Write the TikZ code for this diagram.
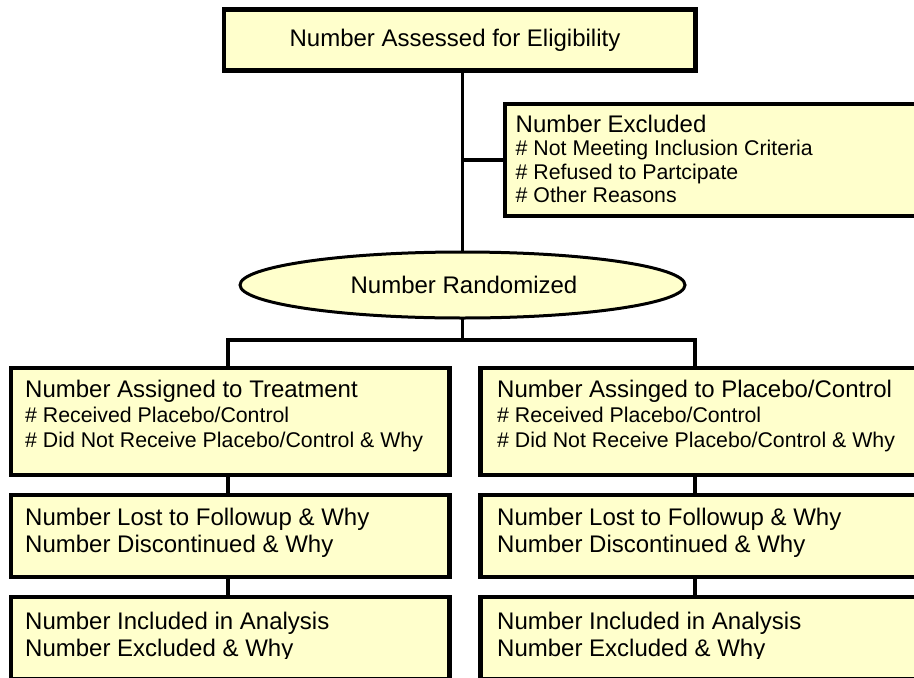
\documentclass[tikz,border=0pt]{standalone}
\usepackage{fontspec}
\setmainfont{Liberation Sans}
\usetikzlibrary{shapes.geometric,backgrounds}
\definecolor{boxfill}{HTML}{FFFFCC}
\tikzset{
  box/.style={draw=black, line width=4.5pt, fill=boxfill, rectangle, inner sep=0pt, outer sep=0pt},
  oval/.style={draw=black, line width=3pt, fill=boxfill, ellipse, inner sep=0pt, outer sep=0pt},
  link/.style={draw=black, line width=3.5pt},
  big/.style={inner sep=0pt, font=\fontsize{24}{27}\selectfont},
  small/.style={inner sep=0pt, font=\fontsize{21.3}{24}\selectfont},
}
\begin{document}
\begin{tikzpicture}[x=1pt,y=-1pt]
\useasboundingbox (0,0) rectangle (914,678);
\clip (0,0) rectangle (914,678);

% boxes
\node[box, minimum width=471.5pt, minimum height=61pt] (top) at (459.75,40) {};
\node[box, minimum width=445pt, minimum height=112pt] (excl) at (727.5,160) {};
\node[oval, minimum width=445pt, minimum height=66pt] (rand) at (462.5,285) {};
\node[box, minimum width=438.5pt, minimum height=107pt] (t1) at (230.25,421.5) {};
\node[box, minimum width=439.5pt, minimum height=107pt] (p1) at (700.25,421.5) {};
\node[box, minimum width=438.5pt, minimum height=82pt] (t2) at (230.25,536) {};
\node[box, minimum width=439.5pt, minimum height=82pt] (p2) at (700.25,536) {};
\node[box, minimum width=438.5pt, minimum height=82pt] (t3) at (230.25,638) {};
\node[box, minimum width=439.5pt, minimum height=82pt] (p3) at (700.25,638) {};

% connectors
\coordinate (split) at (462.5,340);
\coordinate (lc) at (228,340);
\coordinate (rc) at (695,340);
\begin{pgfonlayer}{background}
\draw[link] (rand.north |- top.south) -- (rand.north);
\draw[link] (rand.north |- excl.west) -- (excl.west);
\draw[link] (rand.south) -- (split);
\draw[link] (lc |- t1.north) -- (lc) -- (rc) -- (rc |- p1.north);
\draw[link] (lc |- t1.south) -- (lc |- t2.north);
\draw[link] (lc |- t2.south) -- (lc |- t3.north);
\draw[link] (rc |- p1.south) -- (rc |- p2.north);
\draw[link] (rc |- p2.south) -- (rc |- p3.north);
\end{pgfonlayer}

% texts
\node[big, anchor=base] (toptxt) at (455,46) {Number Assessed for Eligibility};
\node[big, anchor=base west] (ex1) at (515.5,132) {Number Excluded};
\node[small, anchor=base west] (ex2) at (515.5,155.5) {\# Not Meeting Inclusion Criteria};
\node[small, anchor=base west] (ex3) at (515.5,179) {\# Refused to Partcipate};
\node[small, anchor=base west] (ex4) at (515.5,202.5) {\# Other Reasons};
\node[big, anchor=base] (randtxt) at (464,293) {Number Randomized};

\node[big, anchor=base west] (ta) at (25,397) {Number Assigned to Treatment};
\node[small, anchor=base west] (tb) at (25,422) {\# Received Placebo/Control};
\node[small, anchor=base west] (tc) at (25,447) {\# Did Not Receive Placebo/Control \& Why};
\node[big, anchor=base west] (pa) at (497,397) {Number Assinged to Placebo/Control};
\node[small, anchor=base west] (pb) at (497,422) {\# Received Placebo/Control};
\node[small, anchor=base west] (pc) at (497,447) {\# Did Not Receive Placebo/Control \& Why};

\node[big, anchor=base west] (tla) at (25,525.5) {Number Lost to Followup \& Why};
\node[big, anchor=base west] (tlb) at (25,552.5) {Number Discontinued \& Why};
\node[big, anchor=base west] (pla) at (497,525.5) {Number Lost to Followup \& Why};
\node[big, anchor=base west] (plb) at (497,552.5) {Number Discontinued \& Why};

\node[big, anchor=base west] (tia) at (25,629) {Number Included in Analysis};
\node[big, anchor=base west] (pia) at (497,629) {Number Included in Analysis};
\begin{scope}
\clip (0,0) rectangle (914,658.5);
\node[big, anchor=base west] (tib) at (25,656.5) {Number Excluded \& Why};
\node[big, anchor=base west] (pib) at (497,656.5) {Number Excluded \& Why};
\end{scope}
\end{tikzpicture}
\end{document}
